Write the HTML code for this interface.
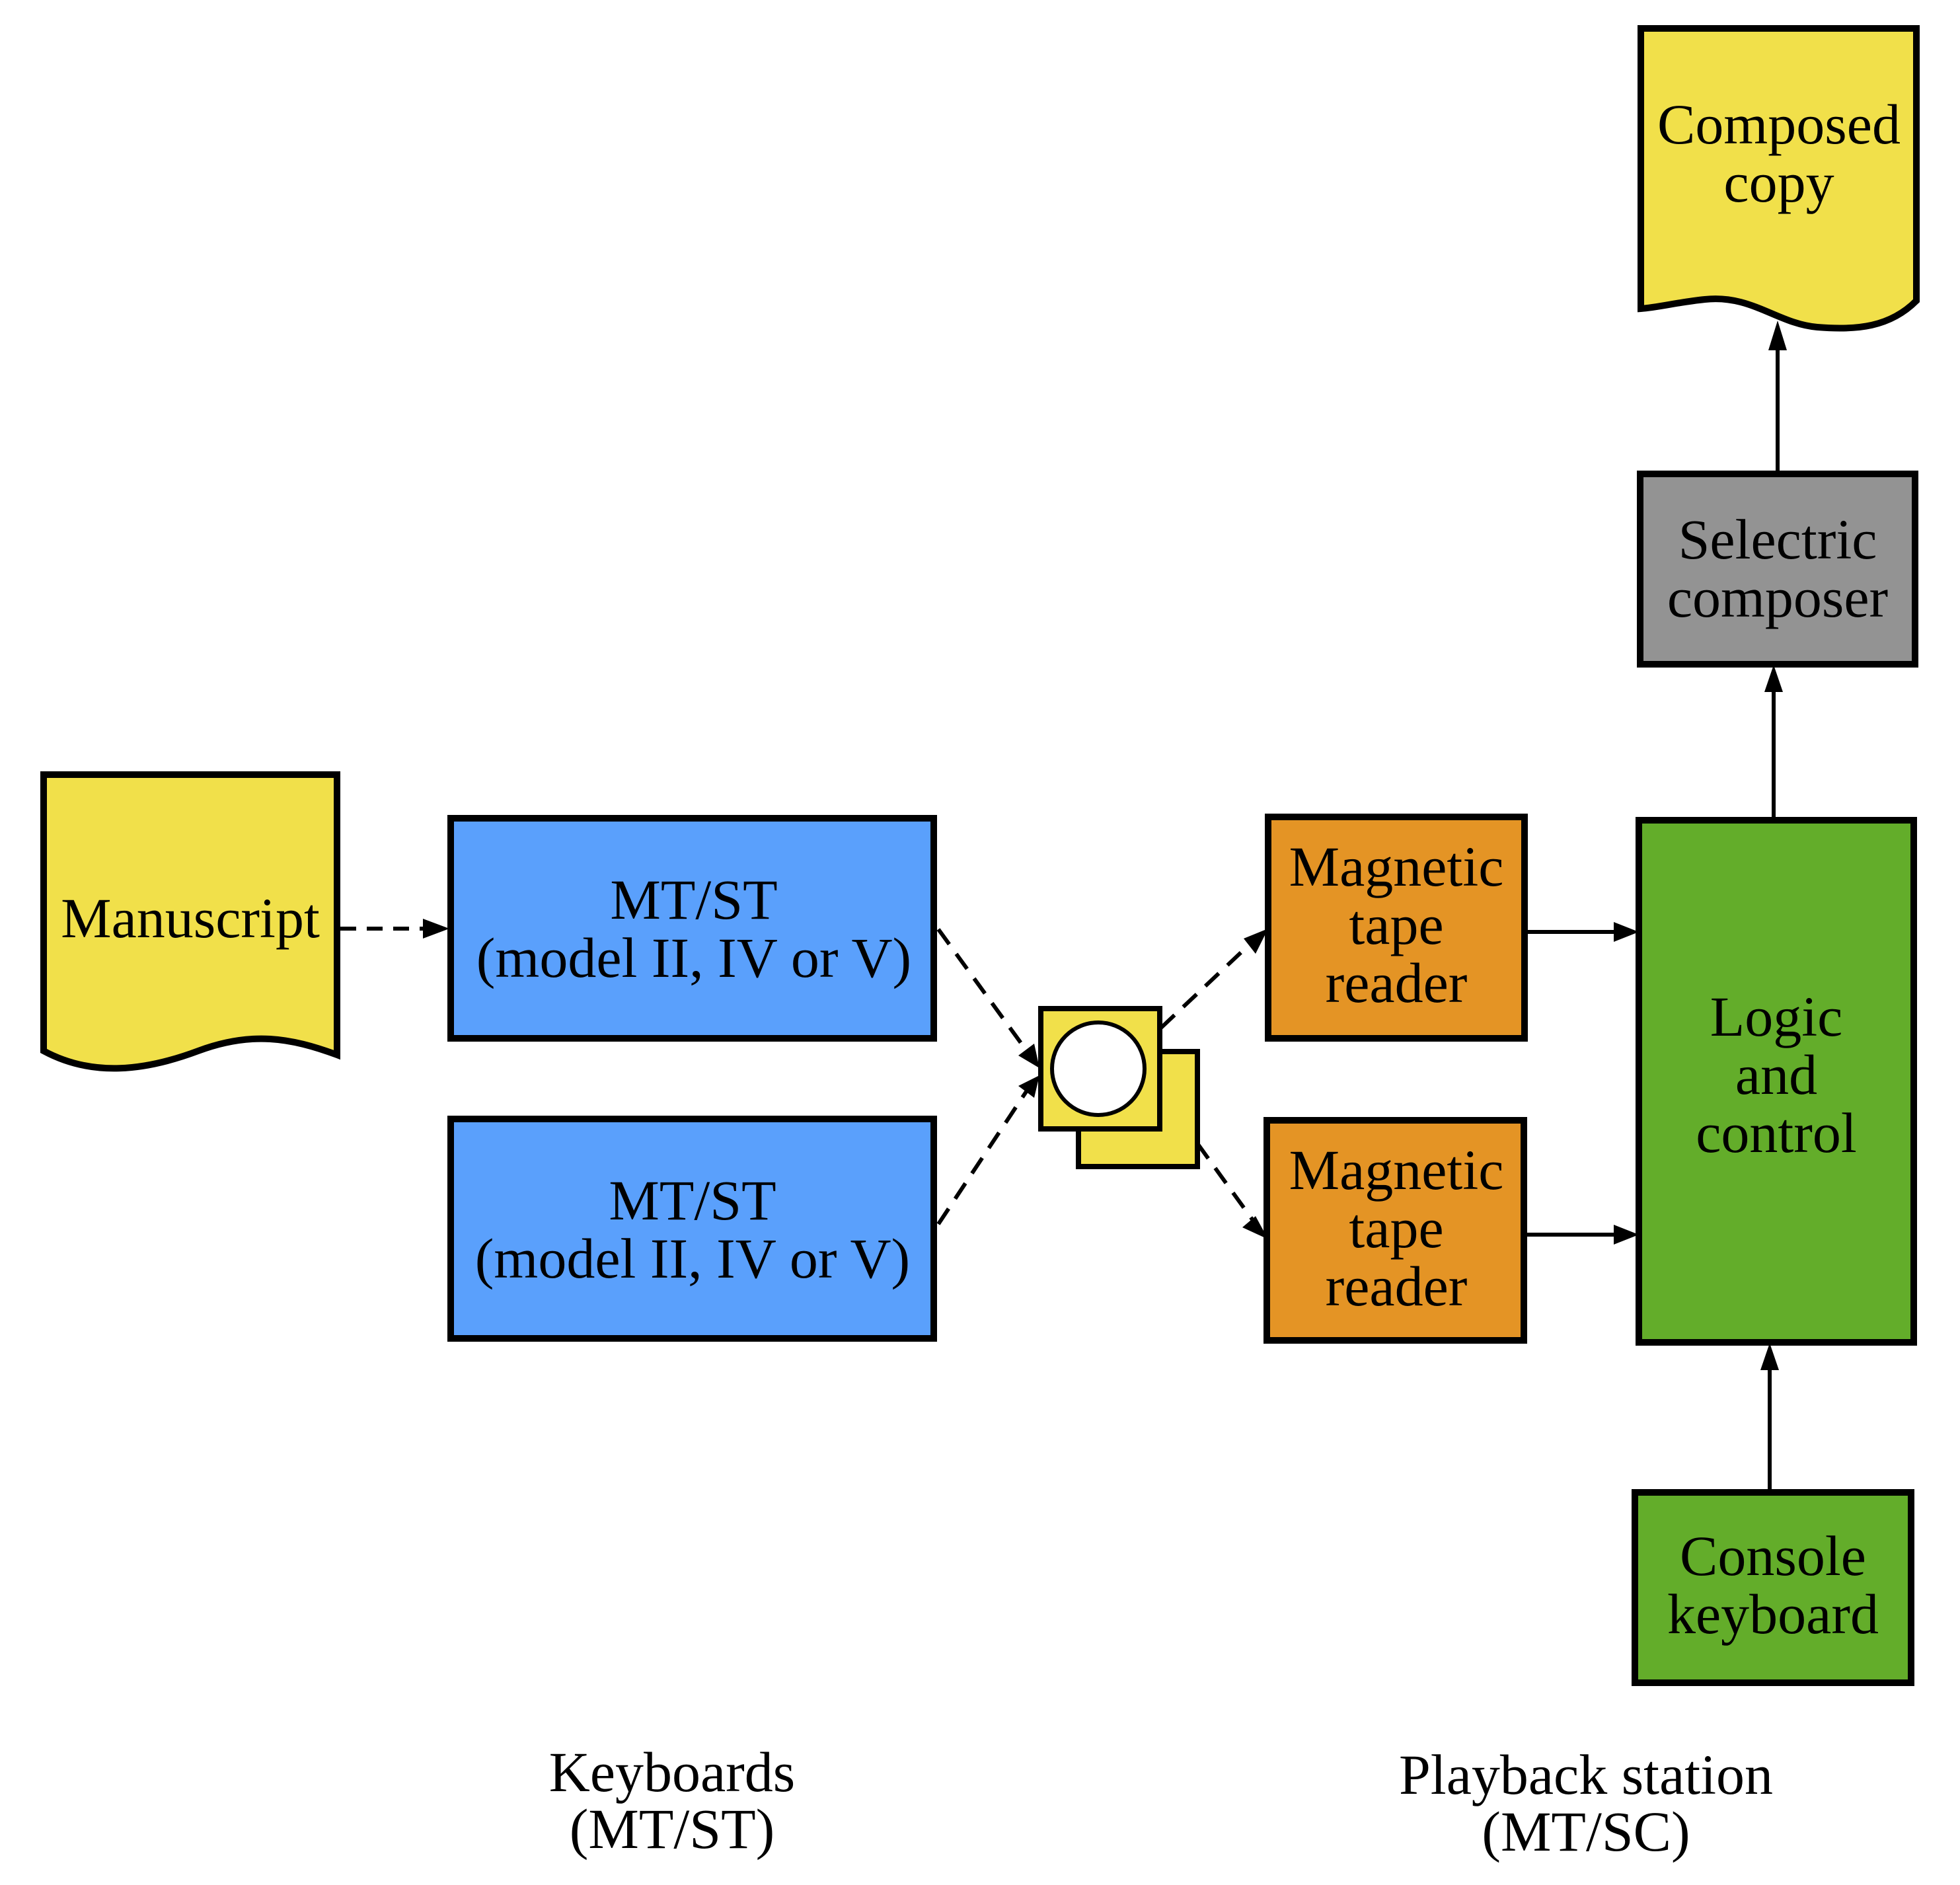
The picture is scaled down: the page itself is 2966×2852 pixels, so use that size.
<!DOCTYPE html>
<html><head><meta charset="utf-8"><style>
html,body{margin:0;padding:0;background:#fff;}
svg{display:block}
text{font-family:"Liberation Serif",serif;font-size:86px;fill:#000;text-anchor:middle}
</style></head><body>
<svg width="2966" height="2852" viewBox="0 0 2966 2852" xmlns="http://www.w3.org/2000/svg">
<g stroke="#000" stroke-width="10">
<path d="M66 1172 L510 1172 L510 1596 C440 1570 380 1560 300 1590 C220 1620 140 1630 66 1590 Z" fill="#f1e04a"/>
<rect x="682" y="1238" width="731" height="333" fill="#5aa0fc"/>
<rect x="682" y="1693" width="731" height="332" fill="#5aa0fc"/>
</g>
<g stroke="#000" stroke-width="6" fill="none">
<line x1="515" y1="1405" x2="650" y2="1405" stroke-dasharray="24,16"/>
<line x1="1420" y1="1406" x2="1558" y2="1596" stroke-dasharray="28,18"/>
<line x1="1420" y1="1852" x2="1558" y2="1644" stroke-dasharray="28,18"/>
</g>
<g fill="#000">
<polygon points="680,1405 640,1390 640,1420"/>
</g>
<text x="288" y="1418">Manuscript</text>
<text x="1050" y="1390">MT/ST</text>
<text x="1050" y="1478">(model II, IV or V)</text>
<text x="1048" y="1845">MT/ST</text>
<text x="1048" y="1933">(model II, IV or V)</text>
<text x="1017" y="2710">Keyboards</text>
<text x="1017" y="2796">(MT/ST)</text>
<text x="2400" y="2714">Playback station</text>
<text x="2400" y="2800">(MT/SC)</text>

<g transform="translate(-10,-5)">
<g stroke="#000" stroke-width="10">
<rect x="1642" y="1596" width="180" height="174" fill="#f1e04a" stroke-width="8"/>
<rect x="1585" y="1531" width="180" height="182" fill="#f1e04a" stroke-width="8"/>
<circle cx="1672" cy="1622" r="70" fill="#fff" stroke-width="6"/>
<rect x="1929" y="1241" width="388" height="335" fill="#e49425"/>
<rect x="1927" y="1700" width="389" height="333" fill="#e49425"/>
<rect x="2490" y="1246" width="416" height="790" fill="#63ad2a"/>
<rect x="2484" y="2263" width="418" height="288" fill="#63ad2a"/>
<rect x="2492" y="722" width="416" height="288" fill="#939393"/>
<path d="M2493 48 L2910 48 L2910 460 C2870 500 2820 505 2760 500 C2700 495 2660 450 2590 458 C2550 462 2520 470 2493 472 Z" fill="#f1e04a"/>
</g>
<g stroke="#000" stroke-width="6" fill="none">
<line x1="1767" y1="1560" x2="1905" y2="1430" stroke-dasharray="28,18"/>
<line x1="1822" y1="1735" x2="1905" y2="1850" stroke-dasharray="28,18"/>
<line x1="2317" y1="1415" x2="2460" y2="1415"/>
<line x1="2316" y1="1873" x2="2460" y2="1873"/>
<line x1="2694" y1="1246" x2="2694" y2="1045"/>
<line x1="2700" y1="722" x2="2700" y2="530"/>
<line x1="2688" y1="2263" x2="2688" y2="2070"/>
</g>
<g fill="#000">
<polygon points="1583,1621 1551,1602 1575,1584"/>
<polygon points="1583,1632 1575,1666 1551,1648"/>
<polygon points="1929,1410 1892,1425 1910,1448"/>
<polygon points="1929,1880 1910,1845 1890,1862"/>
<polygon points="2490,1415 2452,1400 2452,1430"/>
<polygon points="2490,1873 2452,1858 2452,1888"/>
<polygon points="2694,1011 2680,1052 2708,1052"/>
<polygon points="2700,490 2686,535 2714,535"/>
<polygon points="2688,2037 2674,2078 2702,2078"/>
</g>
<text x="2123" y="1345">Magnetic</text>
<text x="2123" y="1433">tape</text>
<text x="2123" y="1521">reader</text>
<text x="2123" y="1804">Magnetic</text>
<text x="2123" y="1892">tape</text>
<text x="2123" y="1980">reader</text>
<text x="2698" y="1572">Logic</text>
<text x="2698" y="1660">and</text>
<text x="2698" y="1748">control</text>
<text x="2693" y="2388">Console</text>
<text x="2693" y="2476">keyboard</text>
<text x="2700" y="850">Selectric</text>
<text x="2700" y="938">composer</text>
<text x="2702" y="222">Composed</text>
<text x="2702" y="310">copy</text>
</g>
</svg>
</body></html>
